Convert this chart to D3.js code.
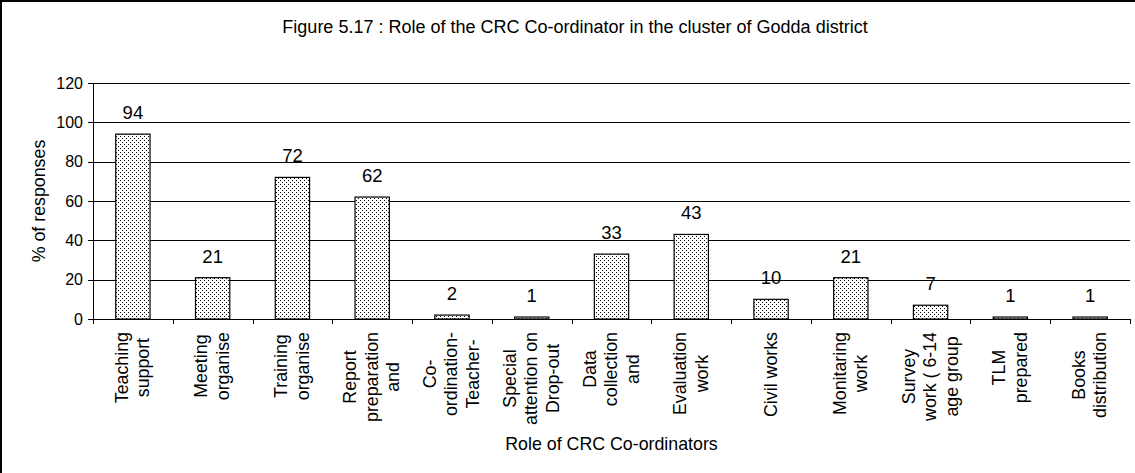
<!DOCTYPE html>
<html>
<head>
<meta charset="utf-8">
<script src="https://cdn.jsdelivr.net/npm/d3@7"></script>
<style>
  body { margin: 0; background: #fff; }
  svg { display: block; font-family: "Liberation Sans", Arial, sans-serif; }
</style>
</head>
<body>
<svg id="chart"></svg>
<script>
// data
const roles = [
  ["Teaching", "support"],
  ["Meeting", "organise"],
  ["Training", "organise"],
  ["Report", "preparation", "and"],
  ["Co-", "ordination-", "Teacher-"],
  ["Special", "attention on", "Drop-out"],
  ["Data", "collection", "and"],
  ["Evaluation", "work"],
  ["Civil works"],
  ["Monitaring", "work"],
  ["Survey", "work ( 6-14", "age group"],
  ["TLM", "prepared"],
  ["Books", "distribution"]
];
const responses = [94, 21, 72, 62, 2, 1, 33, 43, 10, 21, 7, 1, 1];
const yTicks = [0, 20, 40, 60, 80, 100, 120];

const W = 1135, H = 473;
const plot = {left: 93, right: 1130, top: 83, bottom: 319};

const svg = d3.select("#chart").attr("width", W).attr("height", H);

// dotted fill like the excel pattern
const defs = svg.append("defs");
const pat = defs.append("pattern")
  .attr("id", "dots")
  .attr("patternUnits", "userSpaceOnUse")
  .attr("width", 4).attr("height", 4);
pat.append("rect").attr("width", 4).attr("height", 4).attr("fill", "#fff");
pat.append("rect").attr("x", 0).attr("y", 0).attr("width", 1).attr("height", 1).attr("fill", "#000");
pat.append("rect").attr("x", 2).attr("y", 2).attr("width", 1).attr("height", 1).attr("fill", "#000");

svg.append("rect").attr("width", W).attr("height", H).attr("fill", "#fff");
// outer frame (runs off the right/bottom edge)
svg.append("rect")
  .attr("x", 1).attr("y", 1)
  .attr("width", 1200).attr("height", 520)
  .attr("fill", "none").attr("stroke", "#000").attr("stroke-width", 2);

svg.append("text")
  .attr("x", 575).attr("y", 33)
  .attr("text-anchor", "middle")
  .attr("font-size", "18px")
  .text("Figure 5.17 : Role of the CRC Co-ordinator in the cluster of Godda district");

const keys = roles.map((d, i) => i);

const x = d3.scaleBand()
  .domain(keys)
  .range([plot.left, plot.right])
  .paddingInner(0.57)
  .paddingOuter(0.285);

const xEdge = d3.scaleLinear().domain([0, keys.length]).range([plot.left, plot.right]);

const y = d3.scaleLinear().domain([0, 120]).range([plot.bottom, plot.top]);

// gridlines
svg.append("g")
  .attr("transform", `translate(${plot.left},0)`)
  .call(d3.axisLeft(y).tickValues(yTicks.slice(1)).tickSize(-(plot.right - plot.left)).tickFormat(""))
  .call(g => g.select(".domain").remove())
  .call(g => g.selectAll("line").attr("stroke", "#000").attr("shape-rendering", "crispEdges"));

// bars
svg.append("g")
  .selectAll("rect")
  .data(responses)
  .join("rect")
  .attr("x", (d, i) => x(i))
  .attr("y", d => y(d))
  .attr("width", x.bandwidth())
  .attr("height", d => y(0) - y(d))
  .attr("fill", "url(#dots)")
  .attr("stroke", "#000")
  .attr("stroke-width", 1.2);

// value labels
svg.append("g")
  .selectAll("text")
  .data(responses)
  .join("text")
  .attr("x", (d, i) => x(i) + x.bandwidth() / 2)
  .attr("y", d => y(d) - 15)
  .attr("text-anchor", "middle")
  .attr("font-size", "18.5px")
  .text(d => d);

// y axis
const yAxis = svg.append("g")
  .attr("transform", `translate(${plot.left},0)`)
  .call(d3.axisLeft(y).tickValues(yTicks).tickSize(5).tickSizeOuter(0).tickPadding(5));
yAxis.selectAll("text").attr("font-size", "16px").attr("fill", "#000").attr("font-family", null);
yAxis.selectAll("line,path").attr("stroke", "#000").attr("shape-rendering", "crispEdges");

// x axis, ticks between categories
const xAxis = svg.append("g")
  .attr("transform", `translate(0,${plot.bottom})`)
  .call(d3.axisBottom(xEdge).ticks(keys.length).tickSize(5).tickSizeOuter(0).tickFormat(""));
xAxis.selectAll("line,path").attr("stroke", "#000").attr("shape-rendering", "crispEdges");

// category labels, rotated and wrapped
const lineGap = 21.5;
const cat = svg.append("g")
  .selectAll("g")
  .data(roles)
  .join("g")
  .attr("font-size", "17.8px");

cat.each(function(lines, i) {
  const g = d3.select(this);
  const texts = g.selectAll("text")
    .data(lines)
    .join("text")
    .attr("text-anchor", "middle")
    .attr("y", (d, j) => (j - (lines.length - 1) / 2) * lineGap + 5.5)
    .text(d => d);
  const maxW = d3.max(texts.nodes(), n => n.getComputedTextLength());
  texts.attr("x", -maxW / 2);
  g.attr("transform", `translate(${x(i) + x.bandwidth() / 2},332) rotate(-90)`);
});

// axis titles
svg.append("text")
  .attr("transform", `translate(45,${(plot.top + plot.bottom) / 2}) rotate(-90)`)
  .attr("text-anchor", "middle")
  .attr("font-size", "17.8px")
  .text("% of responses");

svg.append("text")
  .attr("x", (plot.left + plot.right) / 2)
  .attr("y", 450)
  .attr("text-anchor", "middle")
  .attr("font-size", "17.8px")
  .text("Role of CRC Co-ordinators");
</script>
</body>
</html>
